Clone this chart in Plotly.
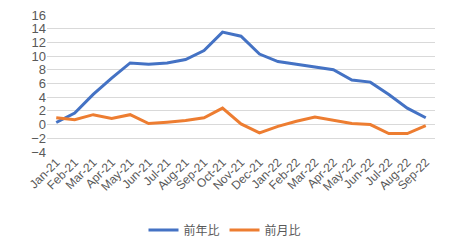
import plotly.graph_objects as go

months = ["Jan-21","Feb-21","Mar-21","Apr-21","May-21","Jun-21","Jul-21","Aug-21","Sep-21","Oct-21","Nov-21","Dec-21",
          "Jan-22","Feb-22","Mar-22","Apr-22","May-22","Jun-22","Jul-22","Aug-22","Sep-22"]
yoy = [0.3, 1.7, 4.4, 6.8, 9.0, 8.8, 9.0, 9.5, 10.8, 13.5, 12.9, 10.3, 9.2, 8.8, 8.3, 8.0, 6.5, 6.2, 4.4, 2.4, 1.0]
mom = [1.0, 0.7, 1.45, 0.9, 1.45, 0.15, 0.35, 0.6, 1.0, 2.4, 0.1, -1.2, -0.25, 0.5, 1.1, 0.6, 0.15, 0.0, -1.3, -1.3, -0.15]
yticks = list(range(-4, 17, 2))

fig = go.Figure()
fig.add_trace(go.Scatter(x=months, y=yoy, mode="lines", name="前年比",
                         line=dict(color="#4472C4", width=3)))
fig.add_trace(go.Scatter(x=months, y=mom, mode="lines", name="前月比",
                         line=dict(color="#ED7D31", width=3)))

font_family = "Liberation Sans, Arial, Noto Sans CJK JP, sans-serif"
fig.update_layout(
    width=450, height=252,
    margin=dict(l=47, r=15, t=15, b=100, autoexpand=False),
    paper_bgcolor="white", plot_bgcolor="white",
    font=dict(family=font_family, size=12, color="#595959"),
    showlegend=True,
    legend=dict(orientation="h", x=0.5, xanchor="center", xref="container",
                y=0.087, yanchor="middle", yref="container",
                font=dict(family="Noto Sans CJK JP, sans-serif", size=12, color="#595959"),
                itemwidth=30),
    xaxis=dict(type="category", range=[-0.5, 20.5], tickangle=-45, showgrid=False,
               showline=False, ticks="", automargin=False,
               tickfont=dict(size=12, color="#595959")),
    yaxis=dict(range=[-4, 16], tickvals=yticks, showgrid=True, gridcolor="#D9D9D9",
               gridwidth=1, zeroline=False, showline=False, ticks="", automargin=False,
               tickfont=dict(size=13, color="#595959")),
)
fig.write_html("out.html")
